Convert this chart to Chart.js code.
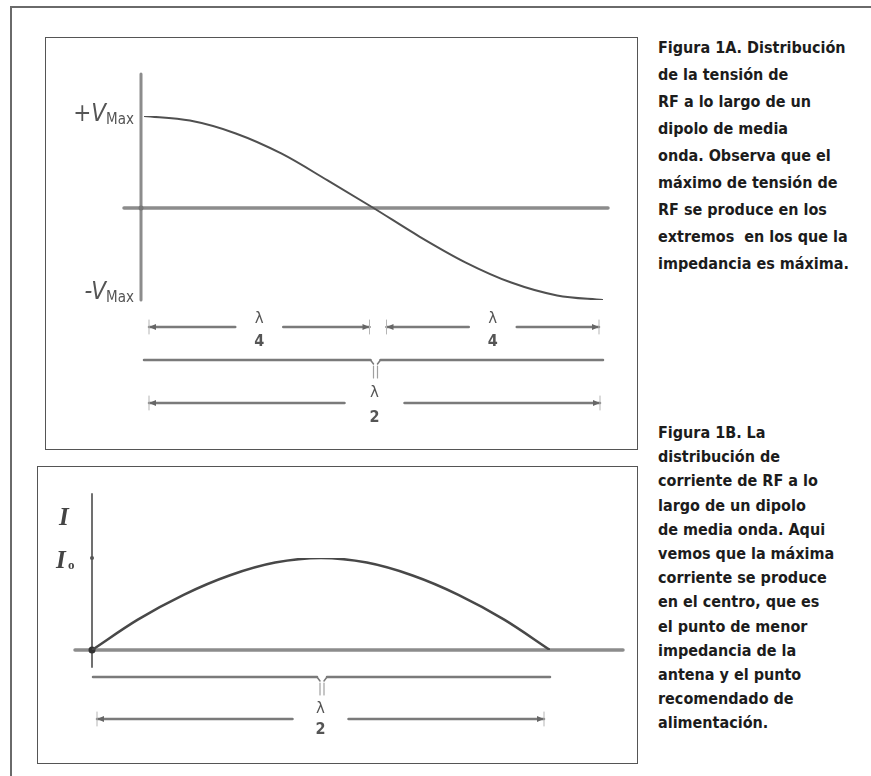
<!DOCTYPE html>
<html lang="es">

<head>
    <meta charset="UTF-8">
    <title>Dipolo de media onda - tensión y corriente</title>

    <!-- Chart.js -->
    <script src="https://cdn.jsdelivr.net/npm/chart.js"></script>

    <style>
        body {
            margin: 0;
            background: #fff;
            width: 871px;
            height: 776px;
            position: relative;
            overflow: hidden;
        }

        .marco {
            position: absolute;
            left: 10px;
            top: 6px;
            width: 900px;
            height: 900px;
            border-left: 2px solid #6a6a6a;
            border-top: 2px solid #6a6a6a;
        }

        .caja {
            position: absolute;
            border: 1.5px solid #555;
            box-sizing: border-box;
        }

        .caja canvas {
            position: absolute;
            left: -1.5px;
            top: -1.5px;
        }

        .texto {
            position: absolute;
            left: 658px;
            font-family: "Liberation Sans Narrow", "DejaVu Sans Condensed", "Roboto", sans-serif;
            font-weight: bold;
            font-size: 16px;
            color: #1c1c1c;
            white-space: nowrap;
        }
    </style>
</head>

<body>
    <div class="marco"></div>

    <div class="caja" style="left:45px; top:37px; width:593px; height:413px;">
        <canvas id="graficoTension" width="593" height="413"></canvas>
    </div>

    <div class="caja" style="left:37px; top:466px; width:601px; height:298px;">
        <canvas id="graficoCorriente" width="601" height="298"></canvas>
    </div>

    <div class="texto" style="top:34px; line-height:27px;">
        Figura 1A. Distribución<br>de la tensión de<br>RF a lo largo de un<br>dipolo de media<br>onda. Observa que el<br>máximo de tensión de<br>RF se produce en los<br>extremos &nbsp;en los que la<br>impedancia es máxima.
    </div>

    <div class="texto" style="top:421px; line-height:24.2px;">
        Figura 1B. La<br>distribución de<br>corriente de RF a lo<br>largo de un dipolo<br>de media onda. Aqui<br>vemos que la máxima<br>corriente se produce<br>en el centro, que es<br>el punto de menor<br>impedancia de la<br>antena y el punto<br>recomendado de<br>alimentación.
    </div>

    <script type="text/javascript">
        // Posición a lo largo del dipolo (0 = un extremo, 1 = el otro)
        var posicion = [0, 0.1, 0.2, 0.3, 0.4, 0.5, 0.6, 0.7, 0.8, 0.9, 1];

        var tension = [1, 0.95, 0.81, 0.59, 0.3, 0, -0.31, -0.59, -0.81, -0.95, -1];

        var corriente = [0, 0.33, 0.6, 0.81, 0.95, 1, 0.95, 0.81, 0.6, 0.33, 0];

        // Etiquetas de los ejes y de las cotas
        var etiquetasTension = ['+V', '-V'];
        var subindiceTension = 'Max';
        var cotasA = [{ desde: 0, hasta: 0.5, den: '4' }, { desde: 0.5, hasta: 1, den: '4' }];
        var cotaTotal = { desde: 0, hasta: 1, den: '2' };

        var GRIS_EJE = '#8c8c8c';
        var GRIS_COTA = '#7a7a7a';
        var GRIS_TEXTO = '#555';

        function linea(ctx, x1, y1, x2, y2, color, ancho) {
            ctx.save();
            ctx.strokeStyle = color;
            ctx.lineWidth = ancho;
            ctx.lineCap = 'round';
            ctx.beginPath();
            ctx.moveTo(x1, y1);
            ctx.lineTo(x2, y2);
            ctx.stroke();
            ctx.restore();
        }

        function punta(ctx, x, y, dir) {
            ctx.save();
            ctx.fillStyle = '#666';
            ctx.beginPath();
            ctx.moveTo(x, y);
            ctx.lineTo(x - dir * 7, y - 3);
            ctx.lineTo(x - dir * 7, y + 3);
            ctx.closePath();
            ctx.fill();
            // pequeña marca vertical del extremo
            linea(ctx, x, y - 7, x, y + 7, '#b5b5b5', 1);
            ctx.restore();
        }

        // flecha de cota con hueco en el centro para la fracción
        function flecha(ctx, x1, x2, y, hueco) {
            var xm = (x1 + x2) / 2;
            linea(ctx, x1, y, xm - hueco, y, GRIS_COTA, 2.5);
            linea(ctx, xm + hueco, y, x2, y, GRIS_COTA, 2.5);
            punta(ctx, x1, y, -1);
            punta(ctx, x2, y, 1);
        }

        function fraccion(ctx, x, yLambda, yDen, den) {
            ctx.save();
            ctx.fillStyle = GRIS_TEXTO;
            ctx.textAlign = 'center';
            ctx.textBaseline = 'middle';
            ctx.font = '15px "DejaVu Sans"';
            ctx.fillText('λ', x, yLambda);
            ctx.font = 'bold 16px "DejaVu Sans Condensed", "DejaVu Sans"';
            ctx.fillText(den, x, yDen);
            ctx.restore();
        }

        // barra con el signo "=" girado en el centro
        function barraIgual(ctx, x1, x2, y, xm) {
            linea(ctx, x1, y, xm - 5, y, GRIS_COTA, 2.5);
            linea(ctx, xm + 5, y, x2, y, GRIS_COTA, 2.5);
            linea(ctx, xm - 5, y, xm - 2, y + 4, GRIS_COTA, 1.5);
            linea(ctx, xm + 5, y, xm + 2, y + 4, GRIS_COTA, 1.5);
            linea(ctx, xm - 2, y + 6, xm - 2, y + 18, '#a0a0a0', 1.2);
            linea(ctx, xm + 2, y + 6, xm + 2, y + 18, '#a0a0a0', 1.2);
        }

        function etiquetaV(ctx, texto, xDer, yBase) {
            ctx.save();
            ctx.fillStyle = GRIS_TEXTO;
            ctx.textAlign = 'right';
            ctx.textBaseline = 'alphabetic';
            ctx.font = '15px "DejaVu Sans Condensed", "DejaVu Sans"';
            var anchoSub = ctx.measureText(subindiceTension).width;
            ctx.fillText(subindiceTension, xDer, yBase + 3);
            ctx.font = 'italic 24px "DejaVu Sans Condensed", "DejaVu Sans"';
            ctx.fillText(texto, xDer - anchoSub, yBase);
            ctx.restore();
        }

        var opcionesBase = function (padding, yMin, yMax) {
            return {
                responsive: false,
                animation: false,
                events: [],
                layout: { padding: padding },
                plugins: { legend: { display: false }, tooltip: { enabled: false } },
                scales: {
                    x: { type: 'linear', min: 0, max: 1, display: false },
                    y: { type: 'linear', min: yMin, max: yMax, display: false }
                }
            };
        };

        // Ejes y cotas de la figura 1A
        var dibujoTension = {
            id: 'dibujoTension',
            beforeDatasetsDraw: function (chart) {
                var ctx = chart.ctx;
                var xs = chart.scales.x, ys = chart.scales.y;
                var x0 = xs.getPixelForValue(0), x1 = xs.getPixelForValue(1), xm = xs.getPixelForValue(0.5);
                var yTop = ys.getPixelForValue(1), yCero = ys.getPixelForValue(0), yBot = ys.getPixelForValue(-1);

                linea(ctx, x0 - 3, yTop - 42, x0 - 3, yBot, GRIS_EJE, 3);
                linea(ctx, x0 - 20, yCero, x1 + 5, yCero, GRIS_EJE, 3.5);
                ctx.fillStyle = '#777';
                ctx.beginPath();
                ctx.arc(x0 - 3, yCero, 2.5, 0, Math.PI * 2);
                ctx.fill();

                etiquetaV(ctx, etiquetasTension[0], x0 - 10, yTop + 5);
                etiquetaV(ctx, etiquetasTension[1], x0 - 10, yBot - 1);

                // cotas lambda/4
                var yFila1 = yBot + 27;
                cotasA.forEach(function (c) {
                    var a = xs.getPixelForValue(c.desde) + 5, b = xs.getPixelForValue(c.hasta) - 4;
                    if (c.desde > 0) a += 8;
                    flecha(ctx, a, b, yFila1, 24);
                    fraccion(ctx, (a + b) / 2, yFila1 - 8, yFila1 + 15, c.den);
                });

                barraIgual(ctx, x0, x1, yBot + 60, xm + 2);

                var yFila3 = yBot + 103;
                var a3 = xs.getPixelForValue(cotaTotal.desde) + 5, b3 = xs.getPixelForValue(cotaTotal.hasta) - 3;
                flecha(ctx, a3, b3, yFila3, 30);
                fraccion(ctx, (a3 + b3) / 2, yFila3 - 10, yFila3 + 15, cotaTotal.den);
            }
        };

        new Chart(document.getElementById('graficoTension').getContext('2d'), {
            type: 'line',
            data: {
                labels: posicion,
                datasets: [{
                    data: posicion.map(function (p, i) { return { x: p, y: tension[i] }; }),
                    borderColor: '#505050',
                    borderWidth: 2,
                    pointRadius: 0,
                    cubicInterpolationMode: 'monotone',
                    fill: false
                }]
            },
            options: opcionesBase({ left: 99, right: 35, top: 79, bottom: 150 }, -1, 1),
            plugins: [dibujoTension]
        });

        // Ejes y cota de la figura 1B
        var dibujoCorriente = {
            id: 'dibujoCorriente',
            beforeDatasetsDraw: function (chart) {
                var ctx = chart.ctx;
                var xs = chart.scales.x, ys = chart.scales.y;
                var x0 = xs.getPixelForValue(0), x1 = xs.getPixelForValue(1), xm = xs.getPixelForValue(0.5);
                var yCero = ys.getPixelForValue(0), yMax = ys.getPixelForValue(1);

                linea(ctx, x0, yMax - 64, x0, yCero + 17, '#707070', 2);
                linea(ctx, x0 - 17, yCero, x1 + 73, yCero, GRIS_EJE, 3.5);
                ctx.fillStyle = '#333';
                ctx.beginPath();
                ctx.arc(x0, yCero, 3.5, 0, Math.PI * 2);
                ctx.fill();
                ctx.fillStyle = '#555';
                ctx.beginPath();
                ctx.arc(x0, yMax, 2, 0, Math.PI * 2);
                ctx.fill();

                // etiquetas I e Io
                ctx.save();
                ctx.fillStyle = '#444';
                ctx.textAlign = 'left';
                ctx.textBaseline = 'alphabetic';
                ctx.font = 'italic bold 25px "Liberation Serif", "DejaVu Serif", serif';
                ctx.fillText('I', x0 - 33, yMax - 33);
                ctx.fillText('I', x0 - 36, yMax + 10);
                ctx.font = 'bold 13px "Liberation Serif", "DejaVu Serif", serif';
                ctx.fillText('o', x0 - 24, yMax + 11);
                ctx.restore();

                barraIgual(ctx, x0 + 1, x1, yCero + 27, xm + 1);

                var yFila = yCero + 69;
                var a = xs.getPixelForValue(cotaTotal.desde) + 5, b = xs.getPixelForValue(cotaTotal.hasta) - 6;
                flecha(ctx, a, b, yFila, 28);
                fraccion(ctx, (a + b) / 2, yFila - 10, yFila + 11, cotaTotal.den);
            }
        };

        new Chart(document.getElementById('graficoCorriente').getContext('2d'), {
            type: 'line',
            data: {
                labels: posicion,
                datasets: [{
                    data: posicion.map(function (p, i) { return { x: p, y: corriente[i] }; }),
                    borderColor: '#484848',
                    borderWidth: 2.5,
                    pointRadius: 0,
                    cubicInterpolationMode: 'monotone',
                    fill: false
                }]
            },
            options: opcionesBase({ left: 55, right: 88, top: 92, bottom: 114 }, 0, 1),
            plugins: [dibujoCorriente]
        });
    </script>

</body>

</html>
